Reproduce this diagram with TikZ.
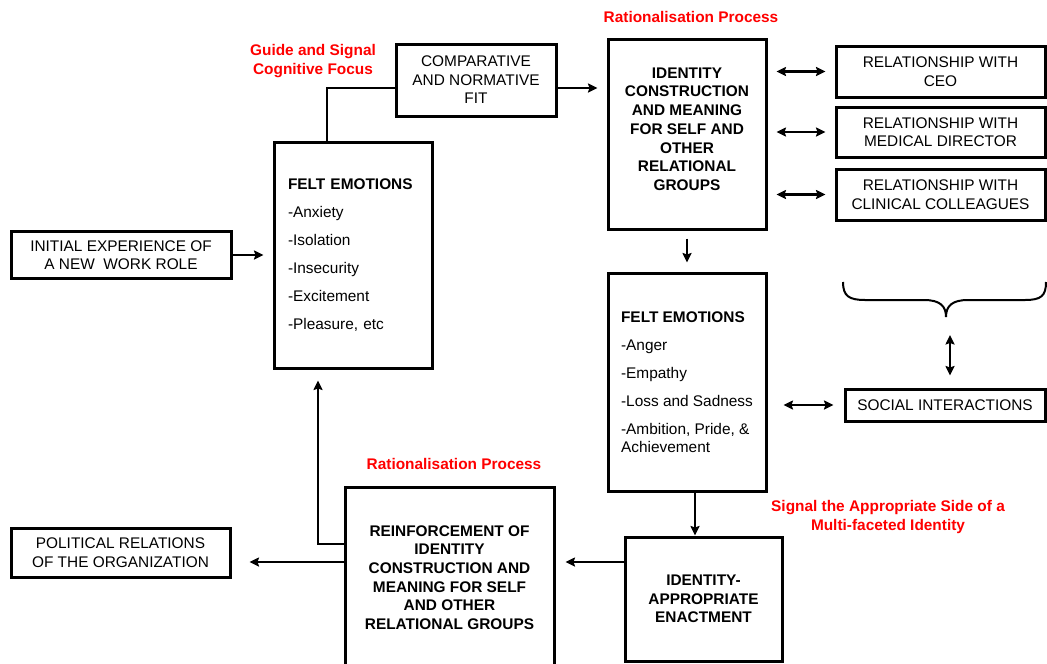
\documentclass[tikz,border=0pt]{standalone}
\usepackage{fontspec}
\setmainfont{Liberation Sans}
\usetikzlibrary{arrows.meta}
\begin{document}
\begin{tikzpicture}[x=1pt,y=-1pt,
  every node/.style={font=\fontsize{15.4}{18.5}\selectfont},
  box/.style={draw, line width=3pt, inner sep=4pt, align=center},
  conn/.style={line width=2.2pt, -{Stealth[length=9.5pt,width=9pt,inset=1.5pt]}},
  dconn/.style={line width=2.2pt, {Stealth[length=9.5pt,width=9pt,inset=1.5pt]}-{Stealth[length=9.5pt,width=9pt,inset=1.5pt]}},
  note/.style={text=red, font=\fontsize{15.4}{18.5}\selectfont\bfseries, align=center}]
\useasboundingbox (0,0) rectangle (1047,664);
\clip (0,0) rectangle (1047,664);

% boxes
\node[box, minimum width=220pt, minimum height=47pt] (init) at (121,255)
  {INITIAL EXPERIENCE OF\\A NEW~ WORK ROLE};
\node[box, minimum width=158pt, minimum height=226pt, text width=130pt, align=left] (felt1) at (353,255)
  {\textbf{FELT EMOTIONS}\\[9.5pt]-Anxiety\\[9.5pt]-Isolation\\[9.5pt]-Insecurity\\[9.5pt]-Excitement\\[9.5pt]-Pleasure, etc};
\node[box, minimum width=160pt, minimum height=72pt] (comp) at (476,80)
  {COMPARATIVE\\AND NORMATIVE\\FIT};
\node[box, minimum width=158pt, minimum height=190pt, text depth=10pt, font=\fontsize{15.4}{18.7}\selectfont\bfseries] (ident) at (687,134)
  {IDENTITY\\CONSTRUCTION\\AND MEANING\\FOR SELF AND\\OTHER\\RELATIONAL\\GROUPS};
\node[box, minimum width=209pt, minimum height=51pt] (rel1) at (940.5,71.5)
  {RELATIONSHIP WITH\\CEO};
\node[box, minimum width=209pt, minimum height=50pt] (rel2) at (940.5,132)
  {RELATIONSHIP WITH\\MEDICAL DIRECTOR};
\node[box, minimum width=209pt, minimum height=51pt] (rel3) at (940.5,194.5)
  {RELATIONSHIP WITH\\CLINICAL COLLEAGUES};
\node[box, minimum width=158pt, minimum height=218pt, align=left] (felt2) at (687,382)
  {\textbf{FELT EMOTIONS}\\[9.5pt]-Anger\\[9.5pt]-Empathy\\[9.5pt]-Loss and Sadness\\[9.5pt]-Ambition, Pride, \&\\Achievement};
\node[box, minimum width=200pt, minimum height=32pt] (social) at (945,405)
  {SOCIAL INTERACTIONS};
\node[box, minimum width=157pt, minimum height=124pt, font=\fontsize{15.4}{18.7}\selectfont\bfseries] (enact) at (703.5,599)
  {IDENTITY-\\APPROPRIATE\\ENACTMENT};
\node[box, minimum width=209pt, minimum height=181pt, font=\fontsize{15.4}{18.6}\selectfont\bfseries] (reinf) at (449.5,577.5)
  {REINFORCEMENT OF\\IDENTITY\\CONSTRUCTION AND\\MEANING FOR SELF\\AND OTHER\\RELATIONAL GROUPS};
\node[box, minimum width=219pt, minimum height=49pt] (polit) at (120.5,552.5)
  {POLITICAL RELATIONS\\OF THE ORGANIZATION};

% red annotations
\node[note] (rat1) at (691,17) {Rationalisation Process};
\node[note] (guide) at (313,61) {Guide and Signal\\Cognitive Focus};
\node[note] (rat2) at (454,464) {Rationalisation Process};
\node[note] (signal) at (888,517) {Signal the Appropriate Side of a\\Multi-faceted Identity};

% brace over the relationship boxes
\draw[line width=2pt] (843,282) .. controls (843,296) and (849,300) .. (865,300) -- (924,300)
  .. controls (940,300) and (946,306) .. (946,317)
  .. controls (946,306) and (952,300) .. (968,300) -- (1025,300)
  .. controls (1041,300) and (1046,296) .. (1046,282);
\coordinate (bracetip) at (950,317);

% connectors
\draw[conn, shorten >=9pt] (init.east) -- (init.east -| felt1.west);
\draw[line width=2.2pt] ([xshift=-26pt]felt1.north) |- ([yshift=-8pt]comp.west);
\draw[conn, shorten >=9pt] ([yshift=-8pt]comp.east) -- ([yshift=-8pt]comp.east -| ident.west);
\draw[dconn, shorten <=9pt, shorten >=9pt] (rel1.west -| ident.east) -- (rel1.west);
\draw[dconn, shorten <=9pt, shorten >=9pt] (rel2.west -| ident.east) -- (rel2.west);
\draw[dconn, shorten <=9pt, shorten >=9pt] (rel3.west -| ident.east) -- (rel3.west);
\draw[conn, shorten <=8pt, shorten >=9pt] (ident.south) -- (felt2.north);
\draw[dconn, shorten <=16pt, shorten >=10pt] (social.west -| felt2.east) -- (social.west);
\draw[dconn, shorten <=18pt, shorten >=12pt] (bracetip) -- (bracetip |- social.north);
\draw[conn] ([xshift=8pt]felt2.south) -- ([xshift=8pt]felt2.south |- enact.north);
\draw[conn, shorten >=10pt] ([yshift=37pt]enact.west) -- ([yshift=37pt]enact.west -| reinf.east);
\draw[conn, shorten >=18pt] ([yshift=15.5pt]reinf.west) -- ([yshift=15.5pt]reinf.west -| polit.east);
\draw[conn, shorten >=11pt] ([yshift=33.5pt]reinf.west) -| ([xshift=-35pt]felt1.south);
\end{tikzpicture}
\end{document}
